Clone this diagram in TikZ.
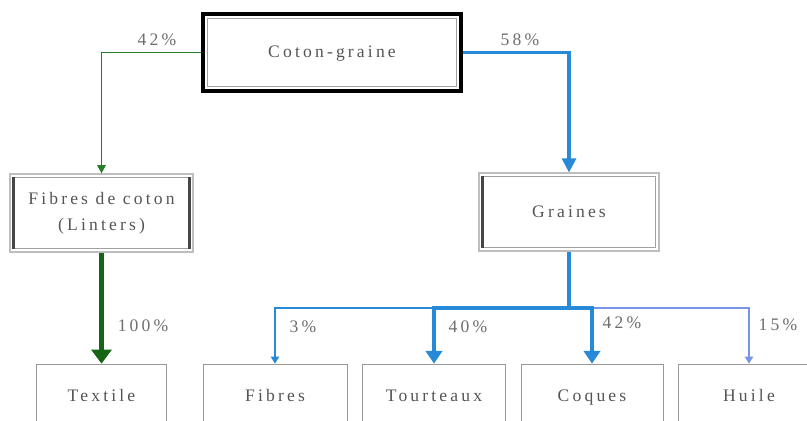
\documentclass[tikz,border=0pt]{standalone}
\usepackage{fontspec}
\setmainfont{Liberation Serif}[LetterSpace=18]
\usetikzlibrary{arrows.meta,calc}

\begin{document}
\begin{tikzpicture}[x=0.03cm,y=-0.03cm,every node/.style={font=\fontsize{15}{22}\selectfont}]
	% Define colors
	\definecolor{txt_gray}{RGB}{85,85,85}
	\definecolor{pct_gray}{RGB}{110,110,110}
	\definecolor{frame_gray}{RGB}{190,190,190}
	\definecolor{edge_dark}{RGB}{70,70,70}
	\definecolor{flow_green}{RGB}{40,125,40}
	\definecolor{flow_dgreen}{RGB}{22,100,22}
	\definecolor{flow_blue}{RGB}{38,138,216}
	\definecolor{flow_light}{RGB}{120,150,232}
	\def\pxu{0.03cm}

	% Styles
	\tikzstyle{top_box} = [draw=black, line width=3.4pt, text=txt_gray, minimum width=258*\pxu, minimum height=77*\pxu, align=center, text height=8pt, text depth=0pt]
	\tikzstyle{mid_box} = [draw=frame_gray, line width=1pt, text=txt_gray, minimum height=78*\pxu, align=center]
	\tikzstyle{end_box} = [draw=frame_gray!80!black, line width=0.6pt, text=txt_gray, minimum height=66*\pxu, align=center, text height=10pt, text depth=3pt]
	\tikzstyle{inner_line} = [draw=frame_gray!85!black, line width=1pt]
	\tikzstyle{dark_edge} = [draw=edge_dark, line width=2pt]
	\tikzstyle{pct_label} = [text=pct_gray, inner sep=0pt]
	\tikzstyle{thin_flow} = [line width=1.6pt]
	\tikzstyle{thick_flow} = [line width=3.4pt]

	\clip (0,0) rectangle (807,421);
	\fill[white] (0,0) rectangle (807,421);

	% Boxes
	\node[top_box] (cg) at (332,52.5) {Coton-graine};
	\node[mid_box, minimum width=183*\pxu] (fc) at (101.5,213) {Fibres de coton\\(Linters)};
	\node[mid_box, minimum width=180*\pxu] (gr) at (569,212) {Graines};

	\node[end_box, minimum width=130*\pxu] (tx) at (101.5,397) {Textile};
	\node[end_box, minimum width=144*\pxu] (fi) at (275,397) {Fibres};
	\node[end_box, minimum width=143*\pxu] (to) at (434,397) {Tourteaux};
	\node[end_box, minimum width=142*\pxu] (co) at (592,397) {Coques};
	\node[end_box, minimum width=142*\pxu] (hu) at (749,397) {Huile};

	% Inner frames
	\draw[inner_line] ($(cg.north west)+(6.5,6.5)$) rectangle ($(cg.south east)+(-6.5,-6.5)$);
	\draw[inner_line] ($(fc.north west)+(4,4)$) rectangle ($(fc.south east)+(-4,-4)$);
	\draw[dark_edge] ($(fc.north west)+(4,4)$) -- ($(fc.south west)+(4,-4)$);
	\draw[dark_edge] ($(fc.north east)+(-4,4)$) -- ($(fc.south east)+(-4,-4)$);
	\draw[inner_line] ($(gr.north west)+(4,4)$) rectangle ($(gr.south east)+(-4,-4)$);
	\draw[dark_edge] ($(gr.north west)+(4,4)$) -- ($(gr.south west)+(4,-4)$);

	% Flows from Coton-graine
	\draw[thin_flow, flow_green, -{Triangle[width=7pt,length=7pt]}] (cg.west) -| (fc.north);
	\draw[line width=2.6pt, flow_blue, -{Triangle[width=12pt,length=12pt]}] (cg.east) -| (gr.north);
	\draw[line width=4.3pt, flow_dgreen, -{Triangle[width=17pt,length=12pt]}] (fc.south) -- (tx.north);

	% Split of Graines
	\coordinate (hub) at ($(gr.south)+(0,56)$);
	\draw[thin_flow, flow_blue, -{Triangle[width=7pt,length=6pt]}] (to.north |- hub) -| (fi.north);
	\draw[thin_flow, flow_light, -{Triangle[width=7pt,length=6pt]}] (co.north |- hub) -| (hu.north);
	\draw[thick_flow, flow_blue] (gr.south) -- (hub);
	\draw[thick_flow, flow_blue, -{Triangle[width=14pt,length=11pt]}] (hub) -| (to.north);
	\draw[thick_flow, flow_blue, -{Triangle[width=14pt,length=11pt]}] (hub) -| (co.north);

	% Percentages
	\node[pct_label] (p_cg_fc) at (157,40) {42\%};
	\node[pct_label] (p_cg_gr) at (520,40) {58\%};
	\node[pct_label] (p_fc_tx) at (143,326) {100\%};
	\node[pct_label] (p_gr_fi) at (303,327) {3\%};
	\node[pct_label] (p_gr_to) at (468,327) {40\%};
	\node[pct_label] (p_gr_co) at (622,323) {42\%};
	\node[pct_label] (p_gr_hu) at (778,325) {15\%};

\end{tikzpicture}
\end{document}
